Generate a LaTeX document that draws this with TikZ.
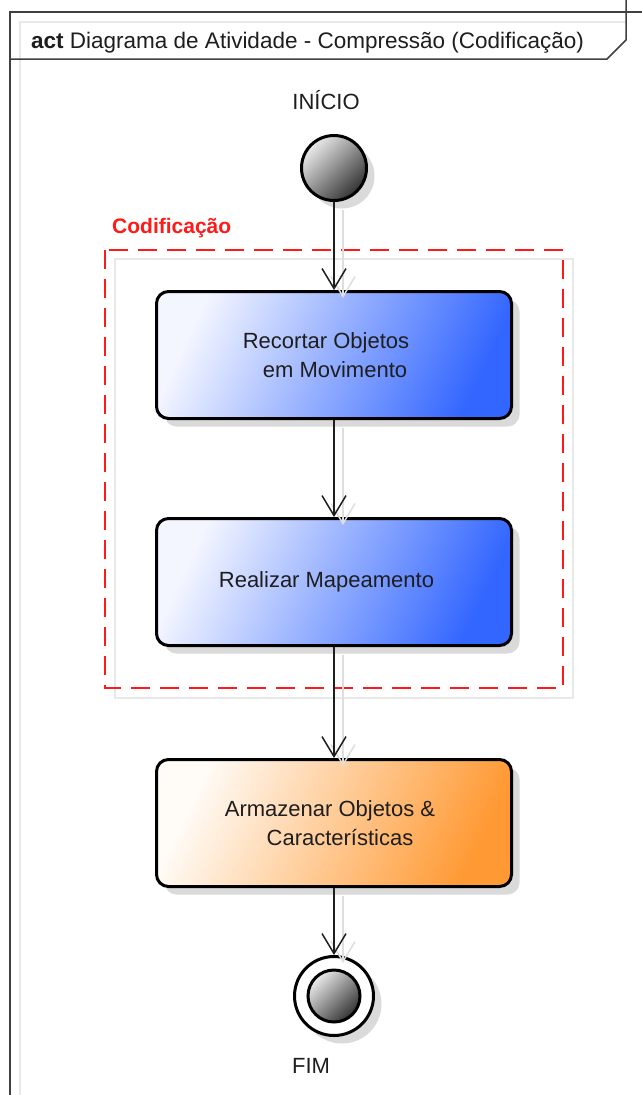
\documentclass[tikz,border=0pt]{standalone}
\usepackage{fontspec}
\setmainfont{Liberation Sans}
\usetikzlibrary{arrows.meta,shadows}
\definecolor{txt}{HTML}{1E1E1E}
\definecolor{frame}{HTML}{404040}
\definecolor{frameshadow}{HTML}{E8E8E8}
\definecolor{shadowc}{HTML}{DADADA}
\definecolor{lineshadow}{HTML}{DEDEDE}
\definecolor{blueL}{HTML}{F4F6FF}
\definecolor{blueR}{HTML}{3366FF}
\definecolor{orangeL}{HTML}{FFFCF8}
\definecolor{orangeR}{HTML}{FF9933}
\definecolor{codred}{HTML}{FF1A1A}
\tikzset{
  txtfont/.style={font=\fontsize{22pt}{29pt}\selectfont, text=txt},
  actbox/.style={rectangle, rounded corners=12pt, draw=black, line width=3pt,
    minimum width=355pt, minimum height=127pt, inner sep=0pt, align=center, txtfont,
    drop shadow={shadow xshift=8pt, shadow yshift=-8pt, fill=shadowc, opacity=1}},
  bluebox/.style={actbox, top color=blueL, bottom color=blueR, shading angle=65},
  orangebox/.style={actbox, top color=orangeL, bottom color=orangeR, shading angle=65},
  ball/.style={circle, draw=black, line width=3pt, inner sep=0pt,
    top color=gray!15, bottom color=black!80, shading angle=45},
  flow/.style={draw=txt, line width=1.5pt, -{Straight Barb[length=20pt,width=24pt,line width=1.5pt]}},
  flowshadow/.style={draw=lineshadow, line width=1.5pt, -{Straight Barb[length=20pt,width=24pt,line width=1.5pt]},
    transform canvas={shift={(9pt,-8pt)}}},
  lbl/.style={txtfont, inner sep=0pt}
}
\begin{document}
\begin{tikzpicture}[x=1pt,y=-1pt]
\useasboundingbox (0,0) rectangle (642,1095);
\fill[white] (0,0) rectangle (642,1095);
% frame shadow lines
\draw[frameshadow, line width=1.2pt] (20,1095) -- (20,22) -- (626,22);
% frame
\draw[frame, line width=1.5pt] (10,1095) -- (10,12) -- (642,12);
\draw[frame, line width=1.5pt] (10,59) -- (607,59) -- (626,40) -- (626,0);
\node[anchor=base west, inner sep=0pt, font=\fontsize{22.5pt}{29pt}\selectfont, text=txt] (title) at (31,48) {\textbf{act} Diagrama de Atividade - Compressão (Codificação)};
% partition
\draw[gray!18, line width=1.2pt] (115,259) rectangle (573,698);
\draw[codred, line width=1.5pt, dash pattern=on 19pt off 10pt] (105,250) rectangle (563,688);
\node[anchor=base west, inner sep=0pt, text=codred, font=\fontsize{21pt}{25pt}\selectfont\bfseries] (codif) at (112,233) {Codificação};
% nodes
\node[lbl, anchor=base] (lini) at (326,109) {INÍCIO};
\node[ball, minimum size=65pt,
  drop shadow={shadow xshift=8pt, shadow yshift=-8pt, fill=shadowc, opacity=1}] (ini) at (334,168) {};
\node[bluebox] (b1) at (334,355) {Recortar Objetos\hspace*{16pt}\\\hspace*{2pt}em Movimento};
\node[bluebox] (b2) at (334,582) {Realizar Mapeamento\hspace*{15pt}};
\node[orangebox] (b3) at (334,823) {Armazenar Objetos \&\hspace*{8pt}\\\hspace*{12pt}Características};
\node[circle, draw=black, fill=white, line width=3pt, minimum size=79pt, inner sep=0pt,
  drop shadow={shadow xshift=8pt, shadow yshift=-8pt, fill=shadowc, opacity=1}] (fim) at (334,996) {};
\node[ball, minimum size=52pt] (fimin) at (334,996) {};
\node[lbl, anchor=base] (lfim) at (311,1073) {FIM};
% connector shadows
\draw[flowshadow] (ini) -- (b1);
\draw[flowshadow] (b1) -- (b2);
\draw[flowshadow] (b2) -- (b3);
\draw[flowshadow] (b3) -- (fim);
% connectors
\draw[flow] (ini) -- (b1);
\draw[flow] (b1) -- (b2);
\draw[flow] (b2) -- (b3);
\draw[flow] (b3) -- (fim);
\end{tikzpicture}
\end{document}
